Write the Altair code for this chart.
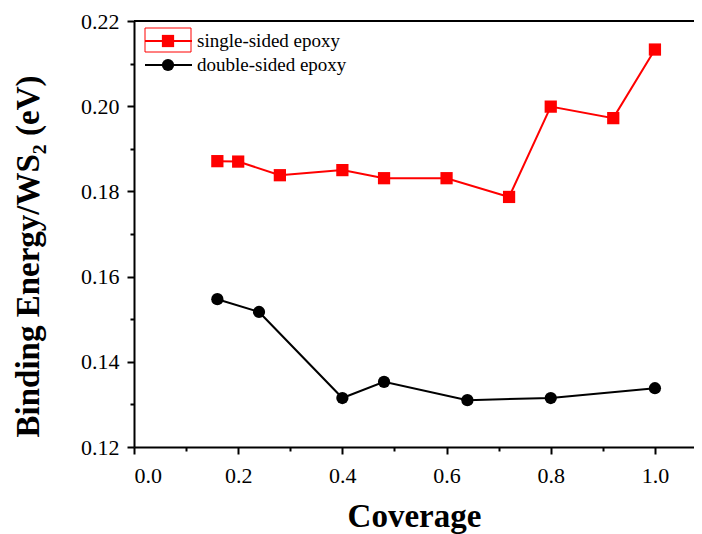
import altair as alt
import pandas as pd

# ---- data ----
series_names = ["single-sided epoxy", "double-sided epoxy"]
series_colors = ["#FF0000", "#000000"]
series_shapes = ["square", "circle"]

coverage_single = [0.16, 0.20, 0.28, 0.40, 0.48, 0.60, 0.72, 0.80, 0.92, 1.00]
energy_single = [0.1871, 0.1870, 0.1838, 0.1850, 0.1831, 0.1831, 0.1787, 0.1999, 0.1972, 0.2133]

coverage_double = [0.16, 0.24, 0.40, 0.48, 0.64, 0.80, 1.00]
energy_double = [0.1547, 0.1517, 0.1315, 0.1353, 0.1310, 0.1315, 0.1338]

x_ticks = [0.0, 0.1, 0.2, 0.3, 0.4, 0.5, 0.6, 0.7, 0.8, 0.9, 1.0]
y_ticks = [0.12, 0.13, 0.14, 0.15, 0.16, 0.17, 0.18, 0.19, 0.20, 0.21, 0.22]

df = pd.DataFrame({
    "coverage": coverage_single + coverage_double,
    "energy": energy_single + energy_double,
    "series": [series_names[0]] * len(coverage_single) + [series_names[1]] * len(coverage_double),
})

W = 560
H = 426
FONT = "Liberation Serif"

x_major = "abs(datum.value*5 - round(datum.value*5)) < 0.001"
y_major = "abs(datum.value*50 - round(datum.value*50)) < 0.001"

x_enc = alt.X(
    "coverage:Q",
    scale=alt.Scale(domain=[0, 1.075], nice=False, zero=False),
    axis=alt.Axis(
        title="Coverage",
        values=x_ticks,
        labelExpr=f"{x_major} ? format(datum.value, '.1f') : ''",
        tickSize={"condition": {"test": x_major, "value": 7}, "value": 4},
        grid=False,
        domainColor="black", domainWidth=2,
        tickColor="black", tickWidth=2,
        labelFont=FONT, labelFontSize=22, labelColor="black", labelPadding=11,
        titleFont=FONT, titleFontSize=33, titleFontWeight="bold", titleColor="black",
        titlePadding=14,
    ),
)
y_enc = alt.Y(
    "energy:Q",
    scale=alt.Scale(domain=[0.12, 0.22], nice=False, zero=False),
    axis=alt.Axis(
        title="Binding Energy/WS₂ (eV)",
        values=y_ticks,
        labelExpr=f"{y_major} ? format(datum.value, '.2f') : ''",
        tickSize={"condition": {"test": y_major, "value": 7}, "value": 4},
        grid=False,
        domainColor="black", domainWidth=2,
        tickColor="black", tickWidth=2,
        labelFont=FONT, labelFontSize=22, labelColor="black", labelPadding=8,
        titleFont=FONT, titleFontSize=33, titleFontWeight="bold", titleColor="black",
        titlePadding=35, titleY=235,
    ),
)
color_enc = alt.Color("series:N", scale=alt.Scale(domain=series_names, range=series_colors), legend=None)
shape_enc = alt.Shape("series:N", scale=alt.Scale(domain=series_names, range=series_shapes), legend=None)

base = alt.Chart(df)
lines = base.mark_line(strokeWidth=2).encode(x=x_enc, y=y_enc, color=color_enc, detail="series:N")
points = base.mark_point(filled=True, size=150, opacity=1).encode(
    x="coverage:Q", y="energy:Q", color=color_enc, shape=shape_enc
)

one = pd.DataFrame({"a": [0]})
top_rule = alt.Chart(one).mark_rule(color="black", strokeWidth=2).encode(
    x=alt.value(0), x2=alt.value(W), y=alt.value(0)
)

# manual legend (line + marker + label)
legend_layers = []
rows_y = [20, 44]
for name, col, shp, ry in zip(series_names, series_colors, series_shapes, rows_y):
    legend_layers.append(
        alt.Chart(one).mark_rule(color=col, strokeWidth=2).encode(
            x=alt.value(11), x2=alt.value(58), y=alt.value(ry)
        )
    )
    legend_layers.append(
        alt.Chart(one).mark_point(shape=shp, filled=True, size=150, color=col, opacity=1).encode(
            x=alt.value(34), y=alt.value(ry)
        )
    )
    legend_layers.append(
        alt.Chart(one).mark_text(align="left", baseline="middle", font=FONT, fontSize=19, color="black").encode(
            x=alt.value(63), y=alt.value(ry), text=alt.value(name)
        )
    )
# highlight box around first legend symbol
legend_layers.append(
    alt.Chart(one).mark_rect(fill=None, stroke="#FF0000", strokeWidth=1).encode(
        x=alt.value(11), x2=alt.value(57), y=alt.value(7), y2=alt.value(31)
    )
)

chart = alt.layer(lines, points, top_rule, *legend_layers).properties(
    width=W,
    height=H,
    autosize=alt.AutoSizeParams(type="none"),
    padding={"left": 126, "top": 13, "right": 0, "bottom": 92},
).configure_view(stroke=None).configure(background="white")

chart.save("out.html", embed_options={"renderer": "svg", "actions": False})
